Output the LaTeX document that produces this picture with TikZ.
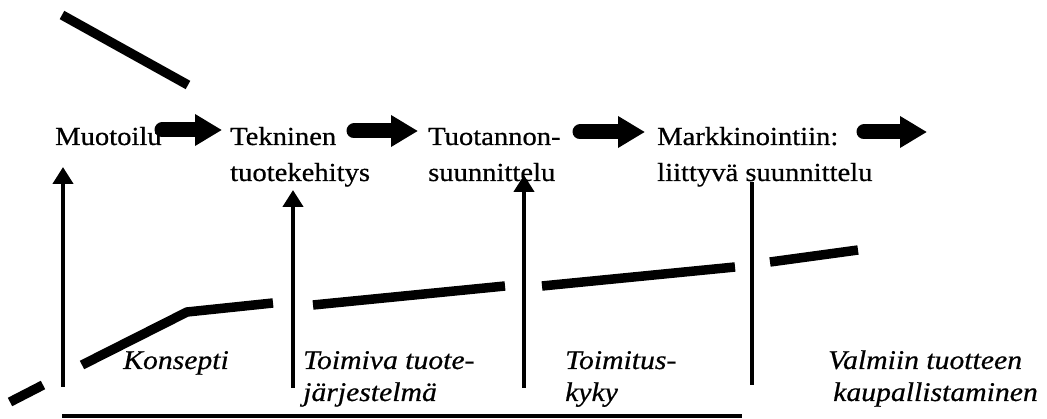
\documentclass[tikz,border=0pt]{standalone}
\usepackage{fontspec}
\setmainfont{Liberation Serif}[FakeStretch=1.1,FakeBold=0.6]
\usetikzlibrary{arrows.meta}
\tikzset{
  bar/.style={line width=9.5pt, line join=round},
  blockarrow/.style={line width=15pt, line cap=round, -{Triangle[length=27pt,width=30pt]}},
  uparrow/.style={line width=4.5pt, -{Triangle[length=17pt,width=20pt]}},
  plainline/.style={line width=4.5pt},
  baseline/.style={line width=3.5pt},
  lbl/.style={anchor=base west, inner sep=0pt, font=\fontsize{26}{30}\selectfont},
  ilbl/.style={anchor=base west, inner sep=0pt, font=\fontsize{27}{30}\selectfont\itshape}
}
\begin{document}
\begin{tikzpicture}[x=1pt,y=-1pt]
\useasboundingbox (0,0) rectangle (1047,419);
% top diagonal bar
\coordinate (d1) at (62,15);
\coordinate (d2) at (188,85);
\draw[bar] (d1) -- (d2);
% stage texts
\node[lbl] (muo) at (55,145) {Muotoilu};
\node[lbl] (tek1) at (230,145) {Tekninen};
\node[lbl] (tek2) at (230,181) {tuotekehitys};
\node[lbl] (tuo1) at (428,145) {Tuotannon-};
\node[lbl] (tuo2) at (428,181) {suunnittelu};
\node[lbl] (mar1) at (657,145) {Markkinointiin:};
\node[lbl] (mar2) at (657,181) {liittyvä suunnittelu};
% block arrows
\coordinate (a1s) at (162,130); \coordinate (a1e) at (222,130);
\coordinate (a2s) at (354,131); \coordinate (a2e) at (418,131);
\coordinate (a3s) at (580,132); \coordinate (a3e) at (645,132);
\coordinate (a4s) at (864,132); \coordinate (a4e) at (927,132);
\draw[blockarrow] (a1s) -- (a1e);
\draw[blockarrow] (a2s) -- (a2e);
\draw[blockarrow] (a3s) -- (a3e);
\draw[blockarrow] (a4s) -- (a4e);
% vertical arrows
\coordinate (v1b) at (63,387);  \coordinate (v1t) at (63,167);
\coordinate (v2b) at (293,388); \coordinate (v2t) at (293,190);
\coordinate (v3b) at (524,388); \coordinate (v3t) at (524,175);
\coordinate (v4b) at (752,385); \coordinate (v4t) at (752,182);
\draw[uparrow] (v1b) -- (v1t);
\draw[uparrow] (v2b) -- (v2t);
\draw[uparrow] (v3b) -- (v3t);
\draw[plainline] (v4b) -- (v4t);
% bottom line
\coordinate (bl) at (62,416); \coordinate (br) at (742,416);
\draw[baseline] (bl) -- (br);
% thick dashed curve
\coordinate (s0a) at (10,402); \coordinate (s0b) at (43,385);
\coordinate (s1a) at (82,365); \coordinate (s1b) at (187,312); \coordinate (s1c) at (273,303);
\coordinate (s2a) at (313,305); \coordinate (s2b) at (505,286);
\coordinate (s3a) at (542,286); \coordinate (s3b) at (735,267);
\coordinate (s4a) at (770,262); \coordinate (s4b) at (858,250);
\draw[bar] (s0a) -- (s0b);
\draw[bar] (s1a) -- (s1b) -- (s1c);
\draw[bar] (s2a) -- (s2b);
\draw[bar] (s3a) -- (s3b);
\draw[bar] (s4a) -- (s4b);
% italic phase labels
\node[ilbl] (kon) at (123,369) {Konsepti};
\node[ilbl] (toi1) at (303,369) {Toimiva tuote-};
\node[ilbl] (toi2) at (303,401) {järjestelmä};
\node[ilbl] (tmk1) at (565,369) {Toimitus-};
\node[ilbl] (tmk2) at (565,401) {kyky};
\node[ilbl] (val1) at (828,369) {Valmiin tuotteen};
\node[ilbl] (val2) at (833,401) {kaupallistaminen};
\end{tikzpicture}
\end{document}
